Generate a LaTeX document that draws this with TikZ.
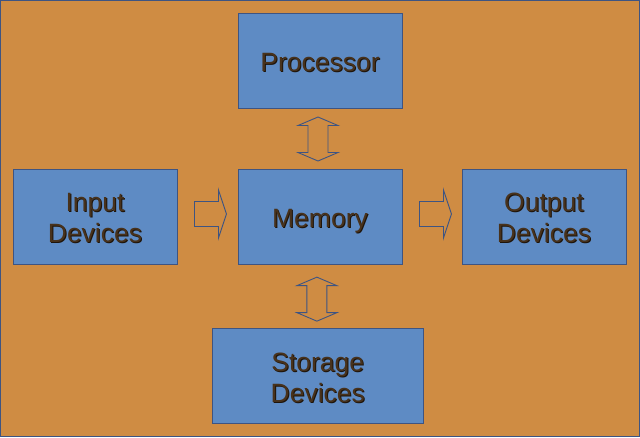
\documentclass[tikz,border=0pt]{standalone}
\usepackage{fontspec}
\setmainfont{Liberation Sans}
\usetikzlibrary{calc}
\definecolor{bgorange}{RGB}{207,140,67}
\definecolor{boxblue}{RGB}{94,139,196}
\definecolor{edgeblue}{RGB}{62,84,130}
\definecolor{txtbrown}{RGB}{72,50,28}
\definecolor{txtshadow}{RGB}{30,20,10}
\tikzset{
  box/.style={draw=edgeblue, line width=0.9pt, fill=boxblue, inner sep=0pt, minimum height=95pt},
  blockarrow/.style={draw=edgeblue, line width=0.9pt, fill=bgorange, line join=miter},
  lbl/.style={font=\fontsize{26.5}{31}\selectfont, align=center, inner sep=0pt, text depth=0pt},
  pics/rarr/.style={code={
    \draw[blockarrow] (0,-12.5) -- (24,-12.5) -- (24,-24) -- (32,0) -- (24,24) -- (24,12.5) -- (0,12.5) -- cycle;
  }},
  pics/vdarr/.style={code={
    \draw[blockarrow] (0,-22) -- (20,-13.5) -- (10,-13.5) -- (10,13.5) -- (20,13.5) -- (0,22) -- (-20,13.5) -- (-10,13.5) -- (-10,-13.5) -- (-20,-13.5) -- cycle;
  }}
}
\newcommand{\shtext}[2]{%
  \node[lbl, text=txtshadow] at ([shift={(1pt,-2.5pt)}]#1) {#2};
  \node[lbl, text=txtbrown] at ([shift={(0pt,-1.5pt)}]#1) {#2};}
\begin{document}
\begin{tikzpicture}[x=1pt,y=-1pt]
  \path[use as bounding box] (0,0) rectangle (640,437);
  \fill[bgorange] (0,0) rectangle (640,437);
  \draw[edgeblue, line width=1.2pt] (0.6,0.6) rectangle (639.4,436.4);

  \node[box, minimum width=164pt] (proc) at (320,60.5) {};
  \node[box, minimum width=164pt] (inp) at (95,216.5) {};
  \node[box, minimum width=164pt] (mem) at (320,216.5) {};
  \node[box, minimum width=164pt] (outp) at (544,216.5) {};
  \node[box, minimum width=211pt] (stor) at (317.8,375.8) {};

  \shtext{proc.center}{Processor}
  \shtext{inp.center}{Input\\Devices}
  \shtext{mem.center}{Memory}
  \shtext{outp.center}{Output\\Devices}
  \shtext{stor.center}{Storage\\Devices}

  \coordinate (a1) at ([xshift=17pt,yshift=2.5pt]inp.east);
  \coordinate (a2) at ([xshift=17pt,yshift=2.5pt]mem.east);
  \coordinate (a3) at ($(proc.south)!0.5!(mem.north)+(-2,0.5)$);
  \coordinate (a4) at ($(mem.south)!0.5!(stor.north)+(-2,3)$);
  \pic at (a1) {rarr};
  \pic at (a2) {rarr};
  \pic at (a3) {vdarr};
  \pic at (a4) {vdarr};
\end{tikzpicture}
\end{document}
